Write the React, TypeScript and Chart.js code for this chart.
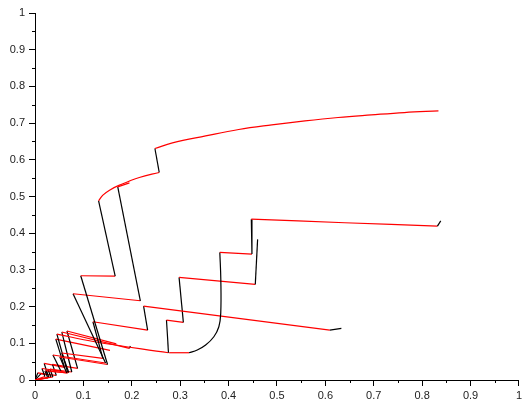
import { useEffect, useRef } from "react";
import { Chart, registerables } from "chart.js";

Chart.register(...registerables);

// Axis ticks
const xTickLabels = ["0", "0.1", "0.2", "0.3", "0.4", "0.5", "0.6", "0.7", "0.8", "0.9", "1"];
const yTickLabels = ["0", "0.1", "0.2", "0.3", "0.4", "0.5", "0.6", "0.7", "0.8", "0.9", "1"];
const minorTicks = [0.05, 0.15, 0.25, 0.35, 0.45, 0.55, 0.65, 0.75, 0.85, 0.95];

// Each trajectory: list of pieces (polylines) that alternate colour, starting with the given colour
const trajA: number[][][] = [
  [[0.8337, 0.7332], [0.7632, 0.7288], [0.6947, 0.7223], [0.6263, 0.7152], [0.5579, 0.706], [0.4893, 0.6951], [0.4209, 0.6826], [0.3526, 0.6651], [0.284, 0.6461], [0.2478, 0.6308]],
  [[0.2478, 0.6308], [0.2567, 0.5655]],
  [[0.2567, 0.5655], [0.2156, 0.5519], [0.1745, 0.5309], [0.154, 0.5173], [0.1403, 0.5037], [0.1314, 0.4882]],
  [[0.1314, 0.4882], [0.1657, 0.2831]],
  [[0.1657, 0.2831], [0.0945, 0.284]],
  [[0.0945, 0.284], [0.1499, 0.0422]],
  [[0.1499, 0.0422], [0.0513, 0.0626]],
  [[0.0513, 0.0626], [0.0657, 0.0191]],
  [[0.0657, 0.0191], [0.0226, 0.0259]],
  [[0.0226, 0.0259], [0.0287, 0.0082]],
  [[0.0287, 0.0082], [0, 0]],
];
const trajB: number[][][] = [
  [[0.8384, 0.4337], [0.8316, 0.4193]],
  [[0.8316, 0.4193], [0.64, 0.4285], [0.447, 0.4383]],
  [[0.447, 0.4383], [0.4483, 0.343]],
  [[0.4483, 0.343], [0.3819, 0.3477]],
  [[0.3819, 0.3477], [0.384, 0.2723], [0.3838, 0.1816], [0.3799, 0.1451], [0.3696, 0.1179], [0.3526, 0.0953], [0.3353, 0.0817], [0.3183, 0.0743]],
  [[0.3183, 0.0743], [0.2772, 0.0743]],
];
const trajC: number[][][] = [
  [[0.6331, 0.1408], [0.6092, 0.1361]],
  [[0.6092, 0.1361], [0.2244, 0.2015]],
  [[0.2244, 0.2015], [0.2327, 0.1361]],
  [[0.2327, 0.1361], [0.1197, 0.1587]],
  [[0.1197, 0.1587], [0.1402, 0.0591]],
  [[0.1402, 0.0591], [0.0554, 0.0735]],
  [[0.0554, 0.0735], [0.0698, 0.0204]],
  [[0.0698, 0.0204], [0.0267, 0.0286]],
  [[0.0267, 0.0286], [0.0329, 0.0082]],
  [[0.0329, 0.0082], [0, 0]],
];
const trajD: number[][][] = [
  [[0.1951, 0.5372], [0.171, 0.5263]],
  [[0.171, 0.5263], [0.2177, 0.2159]],
  [[0.2177, 0.2159], [0.0786, 0.235]],
  [[0.0786, 0.235], [0.1458, 0.0463]],
  [[0.1458, 0.0463], [0.037, 0.0681]],
  [[0.037, 0.0681], [0.0534, 0.0245]],
  [[0.0534, 0.0245], [0.0144, 0.0313]],
  [[0.0144, 0.0313], [0.0205, 0.0095]],
  [[0.0205, 0.0095], [0, 0]],
];
const trajE: number[][][] = [
  [[0.46, 0.3831], [0.4552, 0.2606]],
  [[0.4552, 0.2606], [0.2977, 0.2796]],
  [[0.2977, 0.2796], [0.3066, 0.1571]],
  [[0.3066, 0.1571], [0.2717, 0.1634]],
  [[0.2717, 0.1634], [0.2758, 0.0743]],
  [[0.2758, 0.0743], [0.1232, 0.1043], [0.0452, 0.1252]],
  [[0.0452, 0.1252], [0.0678, 0.0191]],
  [[0.0678, 0.0191], [0.0205, 0.0245]],
  [[0.0205, 0.0245], [0.0267, 0.0054]],
  [[0.0267, 0.0054], [0, 0]],
];
const trajF: number[][][] = [
  [[0.1971, 0.0926], [0.1951, 0.0863]],
  [[0.1951, 0.0863], [0.0554, 0.1307]],
  [[0.0554, 0.1307], [0.076, 0.0218]],
  [[0.076, 0.0218], [0.0308, 0.03]],
  [[0.0308, 0.03], [0.037, 0.0082]],
  [[0.037, 0.0082], [0, 0]],
];
const trajG: number[][][] = [
  [[0.168, 0.0985], [0.066, 0.1335]],
  [[0.066, 0.1335], [0.088, 0.0315]],
  [[0.088, 0.0315], [0.036, 0.0425]],
  [[0.036, 0.0425], [0.044, 0.0125]],
  [[0.044, 0.0125], [0.012, 0.0165]],
  [[0.012, 0.0165], [0, 0]],
];
const trajH: number[][][] = [
  [[0.155, 0.0805], [0.043, 0.1115]],
  [[0.043, 0.1115], [0.061, 0.0345]],
  [[0.061, 0.0345], [0.019, 0.0455]],
  [[0.019, 0.0455], [0.026, 0.0155]],
  [[0.026, 0.0155], [0.006, 0.0195]],
  [[0.006, 0.0195], [0, 0]],
];

const RED = "#ff0000";
const BLACK = "#000000";

const trajectories: { pieces: number[][][]; first: string }[] = [
  { pieces: trajA, first: RED },
  { pieces: trajB, first: BLACK },
  { pieces: trajC, first: BLACK },
  { pieces: trajD, first: RED },
  { pieces: trajE, first: BLACK },
  { pieces: trajF, first: BLACK },
  { pieces: trajG, first: RED },
  { pieces: trajH, first: RED },
];

function buildDatasets() {
  const ds: any[] = [];
  trajectories.forEach((t) => {
    t.pieces.forEach((piece, i) => {
      const color = i % 2 === 0 ? t.first : t.first === RED ? BLACK : RED;
      ds.push({
        data: piece.map((p) => ({ x: p[0], y: p[1] })),
        borderColor: color,
        backgroundColor: color,
        borderWidth: 1.2,
        pointRadius: 0,
        showLine: true,
        tension: piece.length > 2 ? 0.4 : 0,
      });
    });
  });
  return ds;
}

const minorTickPlugin = {
  id: "minorTicks",
  afterDraw(chart: any) {
    const ctx = chart.ctx;
    const xs = chart.scales.x;
    const ys = chart.scales.y;
    ctx.save();
    ctx.strokeStyle = "#000";
    ctx.lineWidth = 1;
    ctx.beginPath();
    minorTicks.forEach((v) => {
      const px = Math.round(xs.getPixelForValue(v)) + 0.5;
      ctx.moveTo(px, xs.top);
      ctx.lineTo(px, xs.top + 3);
      const py = Math.round(ys.getPixelForValue(v)) + 0.5;
      ctx.moveTo(ys.right, py);
      ctx.lineTo(ys.right - 3, py);
    });
    ctx.stroke();
    ctx.restore();
  },
};

export default function App() {
  const ref = useRef<HTMLCanvasElement | null>(null);
  useEffect(() => {
    if (!ref.current) return;
    const font = { family: "'Liberation Sans', Arial, sans-serif", size: 11 };
    const chart = new Chart(ref.current, {
      type: "scatter",
      data: { datasets: buildDatasets() },
      options: {
        animation: false,
        responsive: false,
        layout: { padding: { top: 13, right: 3, left: 0, bottom: 0 } },
        plugins: { legend: { display: false }, tooltip: { enabled: false } },
        scales: {
          x: {
            type: "linear",
            min: 0,
            max: 1,
            afterFit: (s: any) => {
              s.height = 22;
            },
            afterBuildTicks: (s: any) => {
              s.ticks = xTickLabels.map((_, i) => ({ value: i / 10 }));
            },
            ticks: {
              autoSkip: false,
              maxRotation: 0,
              padding: 3,
              color: "#222",
              font,
              callback: (_v: any, i: number) => xTickLabels[i],
            },
            grid: { display: true, drawOnChartArea: false, drawTicks: true, tickLength: 6, tickColor: "#000" },
            border: { display: true, color: "#000", width: 1 },
          },
          y: {
            type: "linear",
            min: 0,
            max: 1,
            afterFit: (s: any) => {
              s.width = 35;
            },
            afterBuildTicks: (s: any) => {
              s.ticks = yTickLabels.map((_, i) => ({ value: i / 10 }));
            },
            ticks: {
              autoSkip: false,
              padding: 4,
              color: "#222",
              font,
              callback: (_v: any, i: number) => yTickLabels[i],
            },
            grid: { display: true, drawOnChartArea: false, drawTicks: true, tickLength: 6, tickColor: "#000" },
            border: { display: true, color: "#000", width: 1 },
          },
        },
      },
      plugins: [minorTickPlugin],
    });
    return () => chart.destroy();
  }, []);
  return (
    <div style={{ position: "absolute", left: 0, top: 0, width: 525, height: 402, background: "#fff" }}>
      <canvas ref={ref} width={525} height={402} style={{ display: "block" }} />
    </div>
  );
}
